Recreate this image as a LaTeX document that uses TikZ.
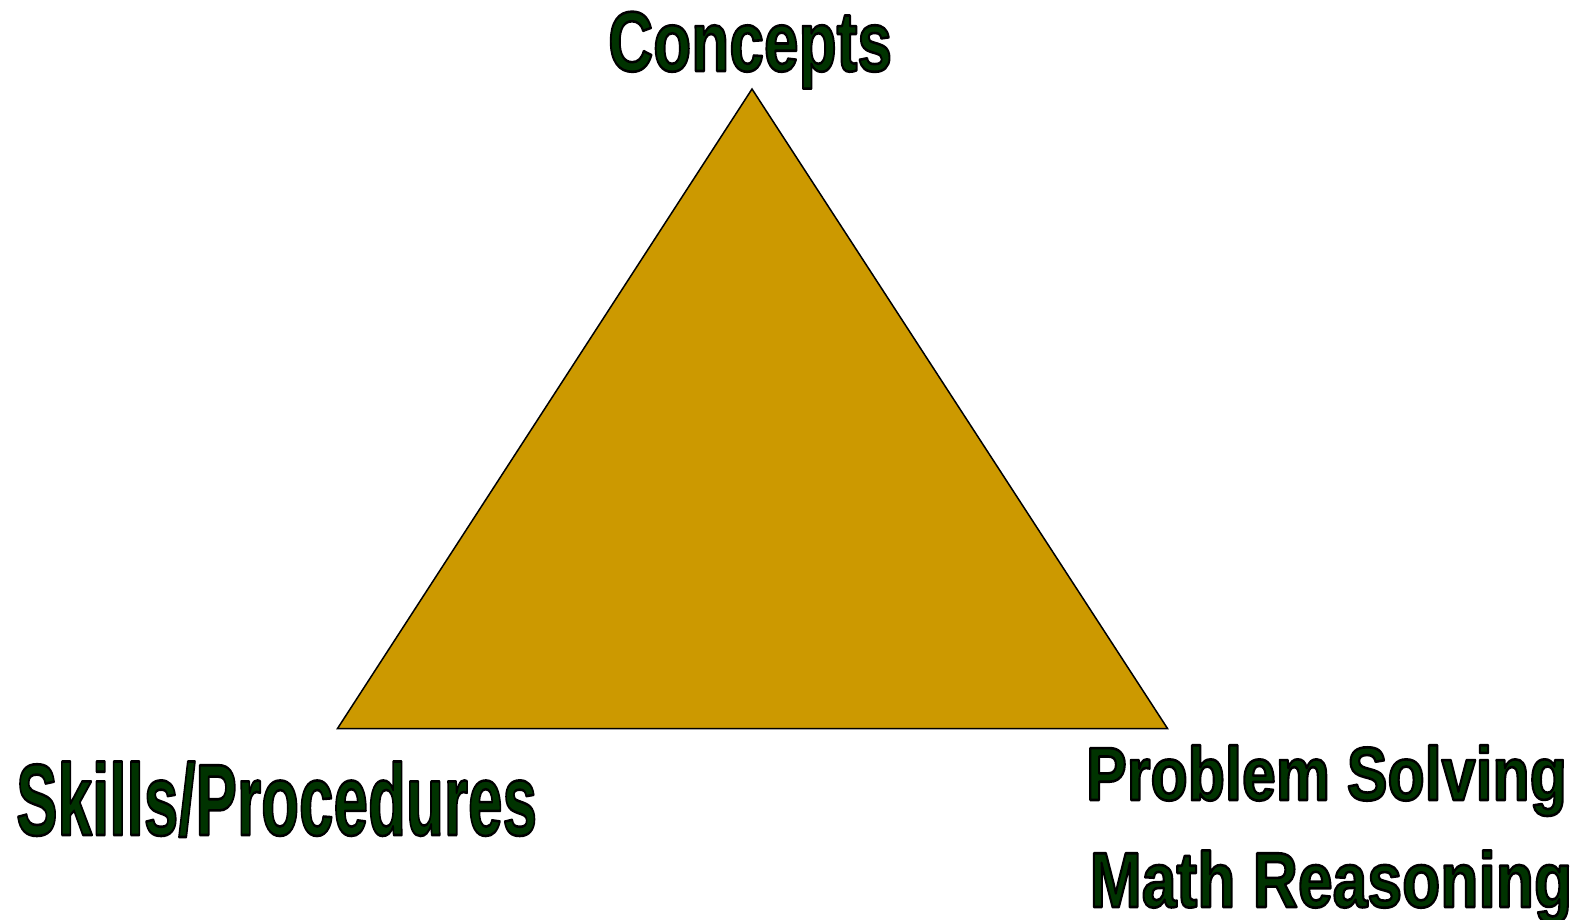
\documentclass[tikz,border=0pt]{standalone}
\usepackage{fontspec}
\setmainfont{Liberation Sans}
\usepackage{graphicx}
\definecolor{trifill}{HTML}{CC9900}
\definecolor{lblgreen}{HTML}{003300}
\newcommand{\olbl}[3]{\scalebox{#2}[1]{\fontsize{#1}{#1}\selectfont\bfseries\color{lblgreen}\special{pdf:literal direct 2 Tr 2.6 w 1 j 0 0 0 RG}#3\special{pdf:literal direct 0 Tr}}}
\tikzset{
  lbl/.style={inner sep=0pt, anchor=base west},
  tri/.style={fill=trifill, draw=black, line width=1.5pt, line join=miter}
}
\begin{document}
\begin{tikzpicture}[x=1pt,y=-1pt]
\useasboundingbox (0,0) rectangle (1589,920);
\coordinate (apex) at (752,89);
\coordinate (bl) at (337.5,728.5);
\coordinate (br) at (1167.5,728.5);
\draw[tri] (apex) -- (br) -- (bl) -- cycle;
\node[lbl] (concepts) at (608,71) {\olbl{85}{0.733}{Concepts}};
\node[lbl] (skills) at (16,835) {\olbl{101.4}{0.612}{Skills/Procedures}};
\node[lbl] (problem) at (1086,800) {\olbl{75.5}{0.807}{Problem Solving}};
\node[lbl] (math) at (1089.5,907) {\olbl{78.1}{0.800}{Math Reasoning}};
\end{tikzpicture}
\end{document}
